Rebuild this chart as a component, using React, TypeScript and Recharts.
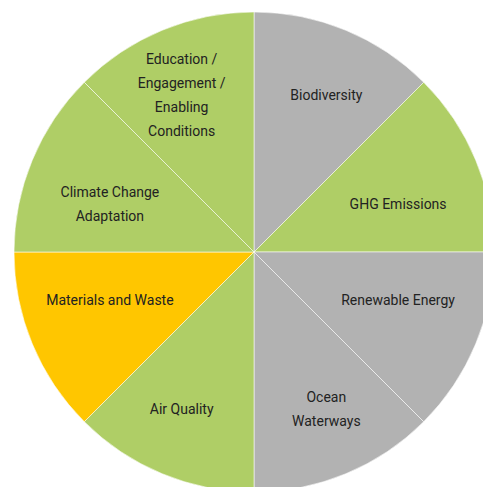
import React from 'react';
import { PieChart, Pie, Cell } from 'recharts';

// Slices, clockwise from 12 o'clock
const categories = [
  'Biodiversity',
  'GHG Emissions',
  'Renewable Energy',
  'Ocean Waterways',
  'Air Quality',
  'Materials and Waste',
  'Climate Change Adaptation',
  'Education / Engagement / Enabling Conditions',
];

const values = [1, 1, 1, 1, 1, 1, 1, 1];

// How each label wraps inside its slice
const labelLines = [
  ['Biodiversity'],
  ['GHG Emissions'],
  ['Renewable Energy'],
  ['Ocean', 'Waterways'],
  ['Air Quality'],
  ['Materials and Waste'],
  ['Climate Change', 'Adaptation'],
  ['Education /', 'Engagement /', 'Enabling', 'Conditions'],
];

const GREEN = '#AFCE66';
const GRAY = '#B2B2B2';
const YELLOW = '#FFC600';

const sliceColors = [GRAY, GREEN, GRAY, GRAY, GREEN, YELLOW, GREEN, GREEN];

const data = categories.map((name, i) => ({ name, value: values[i] }));

const RAD = Math.PI / 180;

const renderLabel = (props: any) => {
  const { cx, cy, midAngle, outerRadius, index } = props;
  const s = Math.abs(Math.sin(midAngle * RAD));
  const dist = outerRadius * (0.615 + 0.123 * s * s);
  // pull labels slightly toward the horizontal axis
  const shift = 5.3 - 3.3 * s;
  const sinSign = Math.sin(midAngle * RAD) >= 0 ? 1 : -1;
  const cosSign = Math.cos(midAngle * RAD) >= 0 ? 1 : -1;
  const ang = midAngle - shift * sinSign * cosSign;
  const x = cx + dist * Math.cos(ang * RAD);
  const y = cy - dist * Math.sin(ang * RAD);
  const lines = labelLines[index];
  const lh = 24;
  return (
    <text
      x={x}
      y={y}
      textAnchor="middle"
      dominantBaseline="central"
      fill="#222222"
      fontSize={14}
      fontFamily="Roboto, sans-serif"
    >
      {lines.map((ln, i) => (
        <tspan key={i} x={x} dy={i === 0 ? -((lines.length - 1) * lh) / 2 : lh}>
          {ln}
        </tspan>
      ))}
    </text>
  );
};

export default function App() {
  return (
    <div style={{ position: 'absolute', left: 0, top: 0, width: 483, height: 487, background: '#fff' }}>
      <PieChart width={483} height={487} margin={{ top: 0, right: 0, bottom: 0, left: 0 }}>
        <Pie
          data={data}
          dataKey="value"
          nameKey="name"
          cx={254}
          cy={252}
          outerRadius={240}
          startAngle={90}
          endAngle={-270}
          stroke="#ffffff"
          strokeOpacity={0.55}
          strokeWidth={1}
          label={renderLabel}
          labelLine={false}
          isAnimationActive={false}
        >
          {data.map((d, i) => (
            <Cell key={d.name} fill={sliceColors[i]} />
          ))}
        </Pie>
      </PieChart>
    </div>
  );
}
